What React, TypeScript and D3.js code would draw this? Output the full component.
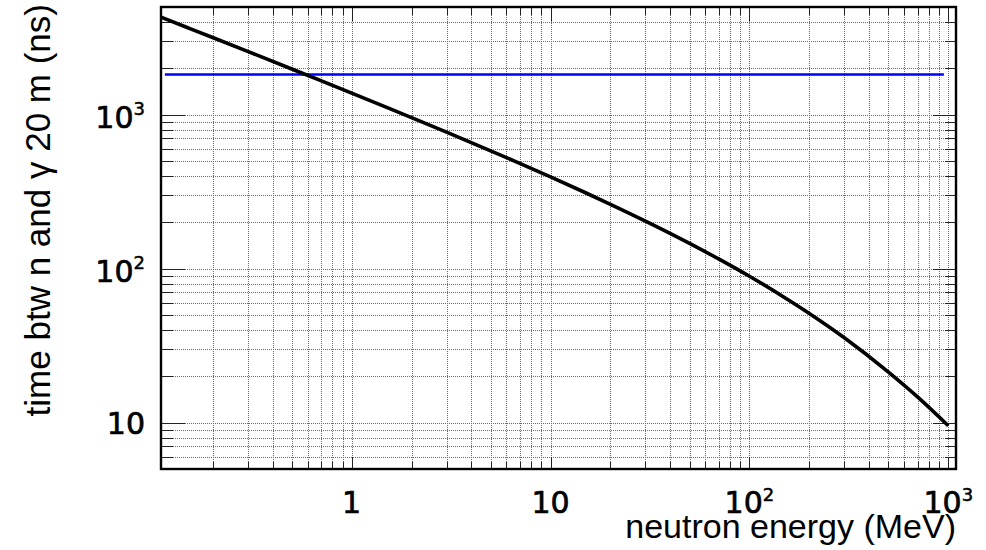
import React from 'react';
import * as d3 from 'd3';

// neutron kinetic energy (MeV) and time difference n - gamma over 20 m (ns)
const energies = [0.11, 0.15, 0.2, 0.3, 0.5, 0.7, 1, 1.5, 2, 3, 5, 7, 10, 15, 20, 30, 50, 70, 100, 150, 200, 300, 500, 700, 1000];
const timeDiff = [4294, 3667, 3167, 2574, 1979, 1662, 1380, 1115, 957, 770, 582.5, 482.9, 394.2, 311.1, 261.8, 203.6, 145.9, 115.6, 89.2, 65.0, 51.2, 35.6, 21.3, 14.7, 9.55];

// horizontal blue reference line
const refLineX = [0.115, 950];
const refLineY = 1822;

const xDomain = [0.11, 1093];
const yDomain = [5, 5000];

const xTickLabels = [
  { v: 1, base: '1', exp: '' },
  { v: 10, base: '10', exp: '' },
  { v: 100, base: '10', exp: '2' },
  { v: 1000, base: '10', exp: '3' },
];
const yTickLabels = [
  { v: 10, base: '10', exp: '' },
  { v: 100, base: '10', exp: '2' },
  { v: 1000, base: '10', exp: '3' },
];

const xTitle = 'neutron energy (MeV)';
const yTitle = 'time btw n and \u03b3 20 m (ns)';

const W = 986;
const H = 550;
const L = 161, R = 956, T = 7, B = 469;
const TICKFONT = '"DejaVu Sans", sans-serif';
const TITLEFONT = '"Liberation Sans", Arial, sans-serif';

export default function App() {
  const x = d3.scaleLog().domain(xDomain).range([L, R]);
  const y = d3.scaleLog().domain(yDomain).range([B, T]);

  const isMajor = (v: number) => Math.abs(Math.log10(v) - Math.round(Math.log10(v))) < 1e-9;
  const xTicks = x.ticks().filter((v) => x(v) > L + 0.5 && x(v) < R - 0.5);
  const yTicks = y.ticks().filter((v) => y(v) < B - 0.5 && y(v) > T + 0.5);

  const pts = energies.map((e, i) => [e, timeDiff[i]] as [number, number]);
  const line = d3
    .line<[number, number]>()
    .x((d) => x(d[0]))
    .y((d) => y(d[1]))
    .curve(d3.curveMonotoneX);

  const px = (v: number) => Math.round(v) + 0.5;

  return (
    <svg width={W} height={H} style={{ position: 'absolute', left: 0, top: 0, background: '#fff' }}>
      <rect x={0} y={0} width={W} height={H} fill="#fff" />
      {/* grid */}
      <g stroke="#6a6a6a" strokeWidth={1} strokeDasharray="1 1" shapeRendering="crispEdges">
        {xTicks.map((v) => (
          <line key={'gx' + v} x1={px(x(v))} x2={px(x(v))} y1={T} y2={B} />
        ))}
        {yTicks.map((v) => (
          <line key={'gy' + v} x1={L} x2={R} y1={px(y(v))} y2={px(y(v))} />
        ))}
      </g>
      {/* ticks */}
      <g stroke="#222" strokeWidth={1} shapeRendering="crispEdges">
        {xTicks.map((v) => {
          const m = isMajor(v);
          return (
            <g key={'tx' + v}>
              <line x1={px(x(v))} x2={px(x(v))} y1={B} y2={B - (m ? 12 : 7)} />
              <line x1={px(x(v))} x2={px(x(v))} y1={T} y2={T + (m ? 14 : 8)} />
            </g>
          );
        })}
        {yTicks.map((v) => {
          const m = isMajor(v);
          return (
            <g key={'ty' + v}>
              <line x1={L} x2={L + (m ? 24 : 12)} y1={px(y(v))} y2={px(y(v))} />
              <line x1={R} x2={R - (m ? 23 : 11)} y1={px(y(v))} y2={px(y(v))} />
            </g>
          );
        })}
      </g>
      {/* blue line */}
      <line
        x1={x(refLineX[0])}
        x2={x(refLineX[1])}
        y1={y(refLineY)}
        y2={y(refLineY)}
        stroke="#0000ff"
        strokeWidth={2.3}
      />
      {/* curve */}
      <path d={line(pts) || ''} fill="none" stroke="#000" strokeWidth={3.6} strokeLinejoin="round" />
      {/* frame */}
      <rect x={L} y={T} width={R - L} height={B - T} fill="none" stroke="#000" strokeWidth={2.4} />
      {/* tick labels */}
      <g fontFamily={TICKFONT} fontSize={30} fill="#000" stroke="#000" strokeWidth={0.7}>
        {xTickLabels.map((t) => (
          <text key={'lx' + t.v} x={x(t.v)} y={513} textAnchor="middle">
            {t.base}
            {t.exp && (
              <tspan fontSize={18} dy={-12} strokeWidth={0.5}>
                {t.exp}
              </tspan>
            )}
          </text>
        ))}
        {yTickLabels.map((t) => (
          <text key={'ly' + t.v} x={145} y={y(t.v) + (t.exp ? 13 : 11)} textAnchor="end">
            {t.base}
            {t.exp && (
              <tspan fontSize={18} dy={-12.5} strokeWidth={0.5}>
                {t.exp}
              </tspan>
            )}
          </text>
        ))}
      </g>
      {/* titles */}
      <text x={956} y={538} textAnchor="end" fontFamily={TITLEFONT} fontSize={34} fill="#000">
        {xTitle}
      </text>
      <text
        transform="translate(50,4) rotate(-90)"
        textAnchor="end"
        fontFamily={TITLEFONT}
        fontSize={35}
        fill="#000"
      >
        {yTitle}
      </text>
    </svg>
  );
}
